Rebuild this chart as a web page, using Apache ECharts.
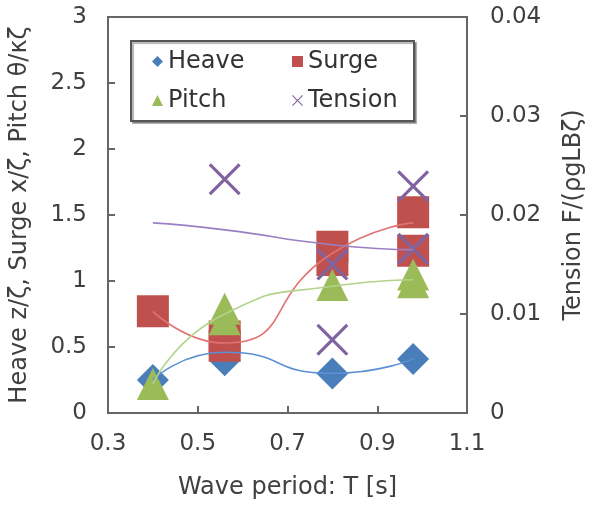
<!DOCTYPE html>
<html>
<head>
<meta charset="utf-8">
<script src="https://cdn.jsdelivr.net/npm/echarts@6/dist/echarts.min.js"></script>
<style>
  html, body { margin: 0; padding: 0; background: #fff; }
  #chart { width: 594px; height: 506px; }
</style>
</head>
<body>
<div id="chart"></div>
<script>
// measured points [T, value]
const heave = [[0.4, 0.25], [0.56, 0.40], [0.56, 0.51], [0.8, 0.30], [0.98, 0.41]];
const surge = [[0.4, 0.77], [0.56, 0.58], [0.56, 0.51], [0.8, 1.26], [0.8, 1.16], [0.98, 1.52], [0.98, 1.23]];
const pitch = [[0.4, 0.22], [0.56, 0.79], [0.56, 0.71], [0.8, 0.97], [0.98, 1.05], [0.98, 0.99]];
const tension = [[0.56, 0.0236], [0.8, 0.0150], [0.8, 0.0074], [0.98, 0.0229], [0.98, 0.0166]];

// smoothed fit curves
const fitT = [0.4, 0.56, 0.8, 0.98];
const heaveFit = [0.25, 0.46, 0.30, 0.41];
const surgeFit = [0.77, 0.53, 1.21, 1.44];
const pitchFit = [0.22, 0.75, 0.96, 1.01];
const tensionFit = [0.0192, 0.0185, 0.0170, 0.0165];

const legendNames = ['Heave', 'Surge', 'Pitch', 'Tension'];
const colors = { Heave: '#4a7ebb', Surge: '#c0504d', Pitch: '#9bbb59', Tension: '#8064a2' };
const fitColors = { Heave: '#5b90d3', Surge: '#e07370', Pitch: '#b2d38a', Tension: '#9a80c2' };

const font = 'DejaVu Sans';
const axisColor = '#666';
const textColor = '#404040';
const crossPath = 'path://M0,7L7,0L50,43L93,0L100,7L57,50L100,93L93,100L50,57L7,100L0,93L43,50Z';

function pairs(xs, ys) {
  return xs.map((x, i) => [x, ys[i]]);
}

function fitLine(name, ys, yIndex) {
  return {
    name: name + ' fit',
    type: 'line',
    yAxisIndex: yIndex,
    data: pairs(fitT, ys),
    smooth: 0.6,
    symbol: 'none',
    z: 5,
    silent: true,
    lineStyle: { color: fitColors[name], width: 1.6 }
  };
}

function marks(name, data, symbol, yIndex) {
  return {
    name: name,
    type: 'scatter',
    yAxisIndex: yIndex,
    data: data,
    symbol: symbol,
    symbolSize: 32,
    itemStyle: { color: colors[name], opacity: 1 }
  };
}

const legendText = { fontFamily: font, fontSize: 24, color: '#333', lineHeight: 25 };

const chart = echarts.init(document.getElementById('chart'));
chart.setOption({
  animation: false,
  textStyle: { fontFamily: font },
  grid: {
    left: 107, right: 125, top: 17, bottom: 93,
    show: true, borderColor: axisColor, borderWidth: 2
  },
  graphic: [{
    type: 'rect',
    z: 3,
    shape: { x: 131, y: 41, width: 283, height: 80 },
    style: {
      fill: '#fff', stroke: '#555', lineWidth: 2,
      shadowColor: 'rgba(0,0,0,0.3)', shadowOffsetX: 2, shadowOffsetY: 2, shadowBlur: 1
    }
  }],
  legend: [
    {
      data: [legendNames[0], legendNames[2]],
      orient: 'vertical', left: 152, top: 49, padding: 0,
      itemWidth: 11, itemHeight: 11, itemGap: 14,
      textStyle: legendText
    },
    {
      data: [legendNames[1], legendNames[3]],
      orient: 'vertical', left: 292, top: 49, padding: 0,
      itemWidth: 11, itemHeight: 11, itemGap: 14,
      textStyle: legendText
    }
  ],
  xAxis: {
    type: 'value',
    min: 0.3, max: 1.1, interval: 0.2,
    name: 'Wave period: T [s]',
    nameLocation: 'middle',
    nameGap: 63,
    nameTextStyle: { fontFamily: font, fontSize: 24, color: textColor },
    axisLine: { lineStyle: { color: axisColor, width: 2 } },
    axisTick: { inside: true, length: 7, lineStyle: { color: axisColor, width: 2 } },
    axisLabel: {
      fontFamily: font, fontSize: 23, color: textColor, margin: 20,
      formatter: v => v.toFixed(1)
    },
    splitLine: { show: false }
  },
  yAxis: [
    {
      type: 'value',
      min: 0, max: 3, interval: 0.5,
      name: 'Heave z/ζ, Surge x/ζ, Pitch θ/κζ',
      nameLocation: 'middle',
      nameGap: 76,
      nameRotate: 90,
      nameTextStyle: { fontFamily: font, fontSize: 24, color: textColor },
      axisLine: { show: true, lineStyle: { color: axisColor, width: 2 } },
      axisTick: { show: true, inside: true, length: 7, lineStyle: { color: axisColor, width: 2 } },
      axisLabel: { fontFamily: font, fontSize: 23, color: textColor, margin: 21 },
      splitLine: { show: false }
    },
    {
      type: 'value',
      position: 'right',
      min: 0, max: 0.04, interval: 0.01,
      name: 'Tension F/(ρgLBζ)',
      nameLocation: 'middle',
      nameGap: 95,
      nameRotate: 90,
      nameTextStyle: { fontFamily: font, fontSize: 24, color: textColor },
      axisLine: { show: true, lineStyle: { color: axisColor, width: 2 } },
      axisTick: { show: true, inside: true, length: 7, lineStyle: { color: axisColor, width: 2 } },
      axisLabel: { fontFamily: font, fontSize: 23, color: textColor, margin: 23 },
      splitLine: { show: false }
    }
  ],
  series: [
    marks('Heave', heave, 'diamond', 0),
    marks('Surge', surge, 'rect', 0),
    marks('Pitch', pitch, 'triangle', 0),
    marks('Tension', tension, crossPath, 1),
    fitLine('Heave', heaveFit, 0),
    fitLine('Surge', surgeFit, 0),
    fitLine('Pitch', pitchFit, 0),
    fitLine('Tension', tensionFit, 1)
  ]
});
</script>
</body>
</html>
